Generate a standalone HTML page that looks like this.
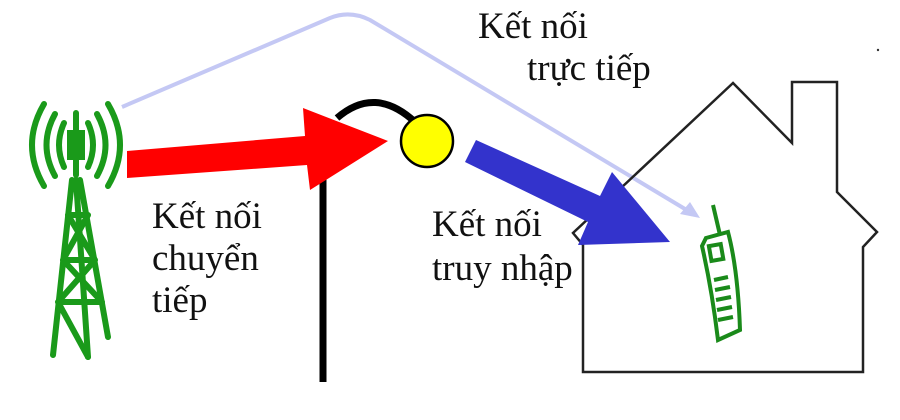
<!DOCTYPE html>
<html><head><meta charset="utf-8"><style>
html,body{margin:0;padding:0;background:#fff;width:900px;height:420px;overflow:hidden}
svg text{font-family:"Liberation Serif",serif;font-size:37px;fill:#111}
</style></head><body>
<svg width="900" height="420" viewBox="0 0 900 420" xmlns="http://www.w3.org/2000/svg">
<path d="M122,107 L330,18 Q350,10 370,20 L690,212" fill="none" stroke="#c4c8f4" stroke-width="4"/>
<polygon points="700,218 680,214 690,202" fill="#c4c8f4"/>
<path d="M733,83 L573,233 L583,245 L583,372 L863,372 L863,247 L877,232 L837,192 L837,82 L792,82 L792,143 Z" fill="none" stroke="#222" stroke-width="2.5"/>
<path d="M323,382 L323,170 M337,118 Q375,85 415,122" fill="none" stroke="#000" stroke-width="7"/>
<circle cx="427" cy="141" r="26" fill="#ffff00" stroke="#000" stroke-width="2.5"/>
<polygon points="127,151 305,136 303,108 388,141 310,190 307,165 127,178" fill="#ff0000"/>
<polygon points="476,140 600,196 612,172 670,242 578,245 588,222 465,162" fill="#3333cc"/>
<g stroke="#1a9a1a" stroke-width="6" fill="none" stroke-linecap="round">
<path d="M44,104 Q20,145 44,186"/><path d="M55,114 Q38,145 55,176"/><path d="M64,123 Q54,145 64,167"/>
<path d="M108,104 Q132,145 108,186"/><path d="M97,114 Q114,145 97,176"/><path d="M88,123 Q98,145 88,167"/>
<line x1="76" y1="113" x2="76" y2="175"/>
<path d="M72,180 L53,355 M80,180 L108,337 M76,180 L88,357"/>
<path d="M68,215 L88,215 M63,260 L95,260 M58,302 L102,302 M68,215 L95,260 M88,215 L63,260 M63,260 L102,302 M95,260 L58,302 M58,302 L88,357"/>
</g>
<rect x="67" y="130" width="18" height="30" fill="#1a9a1a"/>
<g stroke="#1a8a1a" stroke-width="4" fill="none">
<line x1="713" y1="205" x2="720" y2="235"/>
<path d="M706,238 L728,232 Q738,270 740,330 L718,340 Q712,290 702,246 Z"/>
<rect x="710" y="245" width="12" height="15" transform="rotate(-10 716 252)"/>
<path d="M714,280 l14,-3 M715,290 l15,-3 M716,300 l15,-3 M717,310 l15,-3 M718,320 l15,-3"/>
</g>
<text x="478" y="38">Kết nối</text>
<text x="527" y="80">trực tiếp</text>
<text x="152" y="228">Kết nối</text>
<text x="152" y="270">chuyển</text>
<text x="152" y="312">tiếp</text>
<text x="432" y="236">Kết nối</text>
<text x="432" y="280">truy nhập</text>
<circle cx="878" cy="50" r="1.2" fill="#333"/>
</svg>
</body></html>
